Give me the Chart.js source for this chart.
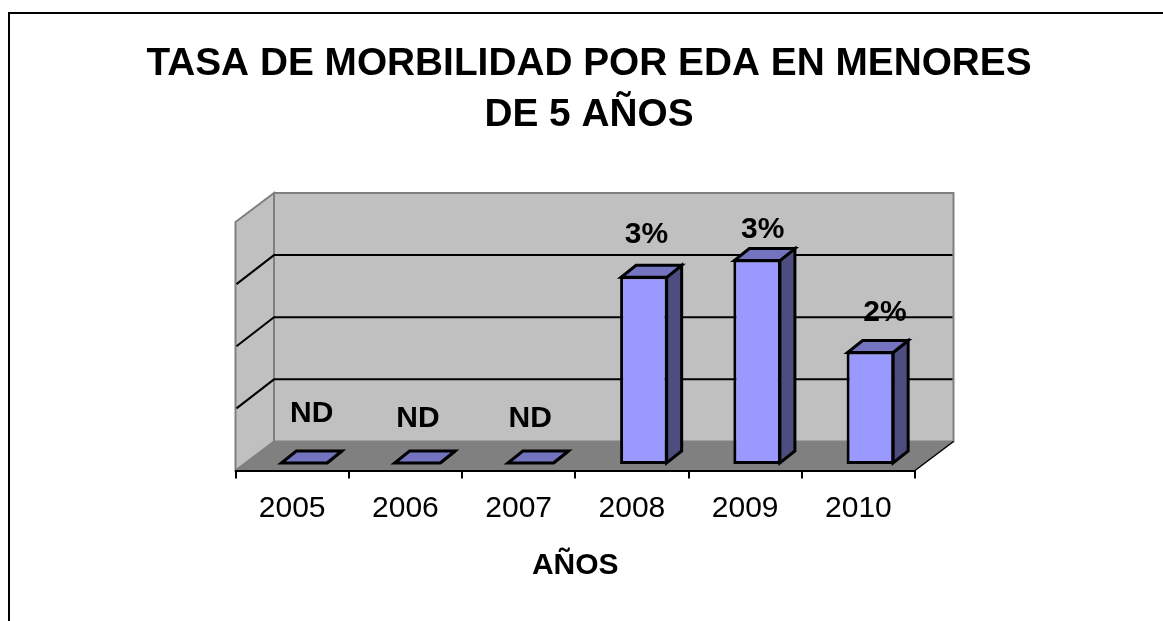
<!DOCTYPE html>
<html><head><meta charset="utf-8">
<style>html,body{margin:0;padding:0;background:#fff}canvas{display:block}</style>
<script src="https://cdn.jsdelivr.net/npm/chart.js@4"></script>
</head><body><canvas id="c" width="1163" height="621"></canvas>
<script>
const categories = ['2005','2006','2007','2008','2009','2010'];
const values = [0, 0, 0, 3.02, 3.29, 1.81];
const valueLabels = ['ND','ND','ND','3%','3%','2%'];
const titleLines = ['TASA DE MORBILIDAD POR EDA EN MENORES','DE 5 AÑOS'];
const axisTitle = 'AÑOS';
const labelShiftX = [0, -7, -8, -5, -2, 7];
const labelShiftY = [-38, -33, -33, -30, -18, -27];

const FONT = '"Liberation Sans", Arial, sans-serif';
const WALL_DX = 38.5, WALL_DY = 29;      // wall depth
const BAR_DX = 12, BAR_DY = -6.5;        // where bars stand on the floor
const BAR_SX = 15, BAR_SY = 12;          // bar depth

const scene = {
  id: 'scene',
  beforeDraw(chart) {
    const {ctx, chartArea: a, scales: {y}} = chart;
    ctx.save();
    ctx.fillStyle = '#fff';
    ctx.fillRect(0, 0, chart.width, chart.height);
    ctx.strokeStyle = '#000'; ctx.lineWidth = 2;
    ctx.beginPath(); ctx.moveTo(9, 640); ctx.lineTo(9, 13); ctx.lineTo(1180, 13); ctx.stroke();
    const L = a.left, R = a.right, B = y.getPixelForValue(0), T = y.getPixelForValue(4);
    const poly = (pts, fill, stroke, lw) => {
      ctx.beginPath();
      pts.forEach((p, i) => i ? ctx.lineTo(p[0], p[1]) : ctx.moveTo(p[0], p[1]));
      ctx.closePath();
      if (fill) { ctx.fillStyle = fill; ctx.fill(); }
      if (stroke) { ctx.strokeStyle = stroke; ctx.lineWidth = lw; ctx.stroke(); }
    };
    // back wall, left wall, floor
    poly([[L+WALL_DX,T-WALL_DY],[R+WALL_DX,T-WALL_DY],[R+WALL_DX,B-WALL_DY],[L+WALL_DX,B-WALL_DY]], '#C0C0C0', '#808080', 2);
    poly([[L,T],[L+WALL_DX,T-WALL_DY],[L+WALL_DX,B-WALL_DY],[L,B]], '#C0C0C0', '#808080', 2);
    poly([[L,B],[R,B],[R+WALL_DX,B-WALL_DY],[L+WALL_DX,B-WALL_DY]], '#808080', null);
    // gridlines on the walls
    ctx.strokeStyle = '#000'; ctx.lineWidth = 2;
    [1,2,3].forEach(v => {
      const p = y.getPixelForValue(v);
      ctx.beginPath();
      ctx.moveTo(L+1, p); ctx.lineTo(L+WALL_DX, p-WALL_DY); ctx.lineTo(R+WALL_DX-1, p-WALL_DY);
      ctx.stroke();
    });
    // right floor edge
    ctx.lineWidth = 1.5;
    ctx.beginPath(); ctx.moveTo(R, B); ctx.lineTo(R+WALL_DX, B-WALL_DY); ctx.stroke();
    ctx.restore();
  },
  beforeDatasetsDraw(chart) {
    const {ctx} = chart;
    ctx.save();
    ctx.translate(BAR_DX, BAR_DY);
    const meta = chart.getDatasetMeta(0);
    ctx.lineWidth = 3; ctx.strokeStyle = '#000'; ctx.lineJoin = 'miter';
    meta.data.forEach(bar => {
      const {x, y, base, width} = bar.getProps(['x','y','base','width']);
      const l = x - width/2 + 1, r = x + width/2 - 1, t = y + 1, b = base - 1;
      const shape = (pts, fill) => {
        ctx.beginPath();
        pts.forEach((p, i) => i ? ctx.lineTo(p[0], p[1]) : ctx.moveTo(p[0], p[1]));
        ctx.closePath(); ctx.fillStyle = fill; ctx.fill(); ctx.stroke();
      };
      const top = Math.min(t, b);
      shape([[r,top],[r+BAR_SX,top-BAR_SY],[r+BAR_SX,b-BAR_SY],[r,b]], '#4D4D80');
      shape([[l,top],[r,top],[r+BAR_SX,top-BAR_SY],[l+BAR_SX,top-BAR_SY]], '#7373BF');
    });
  },
  afterDatasetsDraw(chart) {
    const {ctx} = chart;
    ctx.restore();
    ctx.save();
    ctx.font = 'bold 30px ' + FONT;
    ctx.fillStyle = '#000'; ctx.textAlign = 'center'; ctx.textBaseline = 'middle';
    chart.getDatasetMeta(0).data.forEach((bar, i) => {
      const {x, y} = bar.getProps(['x','y']);
      ctx.fillText(valueLabels[i], x + BAR_DX + BAR_SX/2 + labelShiftX[i], y + BAR_DY - BAR_SY + labelShiftY[i]);
    });
    ctx.restore();
  }
};

new Chart(document.getElementById('c'), {
  type: 'bar',
  data: { labels: categories, datasets: [{
    data: values, backgroundColor: '#9999FF', borderColor: '#000', borderWidth: 3,
    borderSkipped: false, barPercentage: 0.42, categoryPercentage: 1, clip: false, yAxisID: 'y'
  }]},
  options: {
    responsive: false, animation: false,
    layout: { padding: { left: 15, right: 0, top: 0, bottom: 0 } },
    plugins: {
      legend: { display: false }, tooltip: { enabled: false },
      title: { display: true, text: titleLines, color: '#000',
        font: { family: FONT, size: 38.8, weight: 'bold', lineHeight: 1.314 },
        padding: { top: 39, bottom: 81 } }
    },
    scales: {
      x: { offset: true,
        grid: { drawOnChartArea: false, color: '#000', lineWidth: 2, tickLength: 8, offset: true },
        border: { color: '#000', width: 2 },
        ticks: { color: '#000', font: { family: FONT, size: 30 }, padding: 12, maxRotation: 0 },
        title: { display: true, text: axisTitle, color: '#000', font: { family: FONT, size: 30, weight: 'bold' }, padding: { top: 9, bottom: 37.5 } } },
      y: { min: 0, max: 4, position: 'left',
        afterFit(s) { s.width = 220.5; },
        grid: { display: false }, border: { display: false }, ticks: { display: false } },
      y2: { min: 0, max: 4, position: 'right',
        afterFit(s) { s.width = 248; },
        grid: { display: false }, border: { display: false }, ticks: { display: false } }
    }
  },
  plugins: [scene]
});
</script></body></html>
